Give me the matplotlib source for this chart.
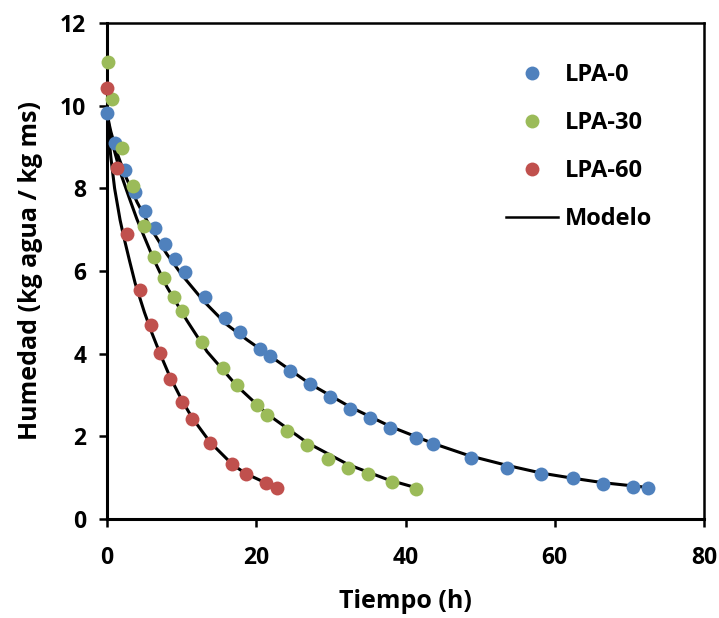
import matplotlib
matplotlib.use("Agg")
import matplotlib.pyplot as plt
from matplotlib.lines import Line2D

# ── experimental points ───────────────────────────────────────────────────────
t_lpa0 = [0, 1.07, 2.4, 3.75, 5.1, 6.4, 7.8, 9.1, 10.5, 13.1, 15.8, 17.8, 20.5,
          21.8, 24.5, 27.2, 29.9, 32.6, 35.3, 37.9, 41.4, 43.7, 48.8, 53.6,
          58.2, 62.5, 66.5, 70.5, 72.5]
m_lpa0 = [9.83, 9.10, 8.45, 7.92, 7.46, 7.05, 6.66, 6.30, 5.98, 5.38, 4.87,
          4.53, 4.12, 3.95, 3.58, 3.27, 2.95, 2.66, 2.45, 2.20, 1.96, 1.82,
          1.48, 1.23, 1.09, 0.99, 0.85, 0.77, 0.75]

t_lpa30 = [0.1, 0.67, 2.0, 3.5, 5.0, 6.3, 7.6, 9.0, 10.1, 12.7, 15.5, 17.4,
           20.1, 21.4, 24.1, 26.8, 29.6, 32.3, 35.0, 38.2, 41.4]
m_lpa30 = [11.06, 10.16, 8.98, 8.06, 7.09, 6.34, 5.83, 5.37, 5.03, 4.28, 3.65,
           3.24, 2.76, 2.52, 2.13, 1.79, 1.45, 1.23, 1.09, 0.90, 0.73]

t_lpa60 = [0, 1.34, 2.7, 4.4, 5.9, 7.1, 8.4, 10.1, 11.4, 13.8, 16.8, 18.6,
           21.3, 22.8]
m_lpa60 = [10.43, 8.49, 6.90, 5.54, 4.69, 4.02, 3.39, 2.83, 2.42, 1.84, 1.33,
           1.09, 0.87, 0.75]

# ── model curves ─────────────────────────────────────────────────────────────
tm_0 = [0, 0.25, 0.5, 1, 1.5, 2.5, 4, 6, 8, 10, 13, 16, 18.8, 21.8, 27.2,
        32.6, 38.1, 43.7, 48.6, 53.6, 58.3, 62.4, 66.5, 71.7]
mm_0 = [9.85, 9.57, 9.37, 9.05, 8.77, 8.28, 7.67, 6.99, 6.41, 5.91, 5.26,
        4.71, 4.33, 3.95, 3.27, 2.71, 2.23, 1.83, 1.53, 1.30, 1.11, 0.99,
        0.88, 0.78]

tm_30 = [0, 0.3, 0.76, 1.74, 3, 4, 6.2, 8, 10.7, 13.4, 17.4, 21.4, 26.8,
         32.3, 37.7, 41.4]
mm_30 = [9.85, 9.45, 9.05, 8.40, 7.75, 7.25, 6.30, 5.62, 4.80, 4.05, 3.22,
         2.55, 1.85, 1.32, 0.95, 0.76]

tm_60 = [0, 0.2, 0.5, 1.0, 1.74, 2.2, 3.0, 3.75, 5.0, 6.0, 7.1, 8.4, 10.1,
         11.4, 13.8, 16.8, 18.6, 20.5, 22.8]
mm_60 = [9.85, 9.30, 8.75, 8.00, 7.23, 6.85, 6.25, 5.71, 5.00, 4.50, 4.00,
         3.45, 2.85, 2.45, 1.86, 1.32, 1.10, 0.94, 0.80]

labels = ["LPA-0", "LPA-30", "LPA-60"]
BLUE, GREEN, RED = "#4f81bd", "#9bbb59", "#c0504d"

plt.rcParams["font.family"] = ["Open Sans", "DejaVu Sans"]
plt.rcParams["font.weight"] = "bold"

fig = plt.figure(figsize=(7.19, 6.18), dpi=100)
ax = fig.add_axes([0.149, 0.160, 0.830, 0.803])

for tm, mm in [(tm_0, mm_0), (tm_30, mm_30), (tm_60, mm_60)]:
    ax.plot(tm, mm, color="black", lw=2.2, zorder=2)

for t, m, c in [(t_lpa0, m_lpa0, BLUE), (t_lpa30, m_lpa30, GREEN),
                (t_lpa60, m_lpa60, RED)]:
    ax.plot(t, m, "o", color=c, ms=10, mec="none", zorder=3, clip_on=False)

ax.set_xlim(0, 80)
ax.set_ylim(0, 12)
ax.set_xticks([0, 20, 40, 60, 80])
ax.set_yticks(range(0, 13, 2))
ax.tick_params(direction="out", length=6, width=1.8, labelsize=16.5)
ax.tick_params(axis="x", pad=13)
ax.tick_params(axis="y", pad=9)
for lab in ax.get_xticklabels() + ax.get_yticklabels():
    lab.set_fontweight("bold")
for side in ["left", "bottom"]:
    ax.spines[side].set_linewidth(2.2)
for side in ["top", "right"]:
    ax.spines[side].set_linewidth(1.8)

ax.set_xlabel("Tiempo (h)", fontsize=18, fontweight="bold", labelpad=14)
ax.set_ylabel("Humedad (kg agua / kg ms)", fontsize=18, fontweight="bold",
              labelpad=12)

handles = [Line2D([], [], ls="none", marker="o", ms=10, mec="none", color=c)
           for c in (BLUE, GREEN, RED)]
handles.append(Line2D([], [], color="black", lw=1.8))
ax.legend(handles, labels + ["Modelo"], loc="upper left", frameon=False,
          prop={"weight": "bold", "size": 17},
          bbox_to_anchor=(0.668, 0.919), borderaxespad=0, borderpad=0,
          labelspacing=1.02, handlelength=2.2, handletextpad=0.3)

fig.savefig("out.png", dpi=100)
